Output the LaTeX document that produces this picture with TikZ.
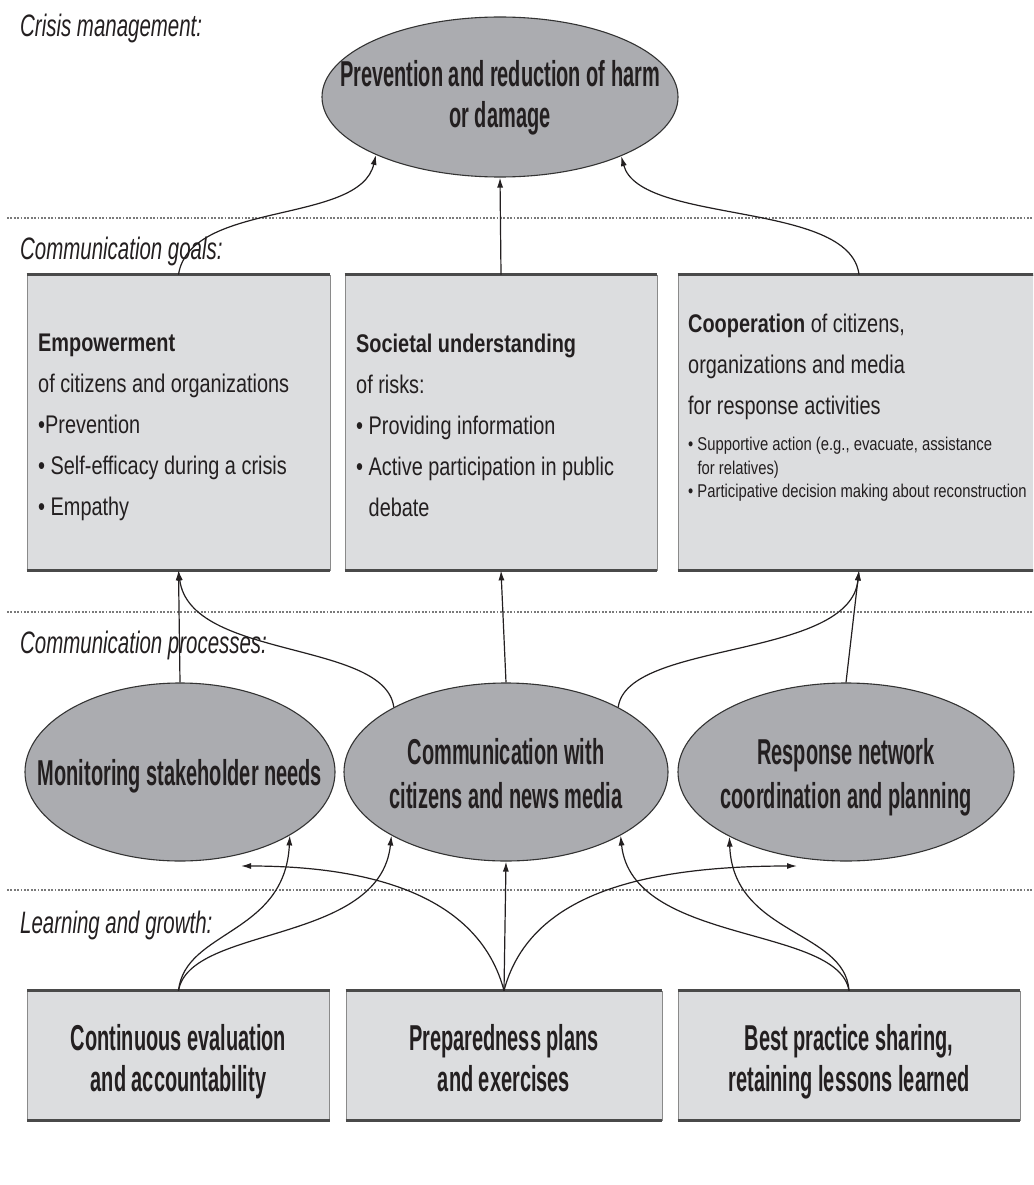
\documentclass[tikz,border=0pt]{standalone}
\usepackage{fontspec}
\setmainfont{Liberation Sans}
\newfontfamily\fbig{Liberation Sans}[FakeStretch=0.555]
\newfontfamily\fmid{Liberation Sans}[FakeStretch=0.78]
\newfontfamily\fsmall{Liberation Sans}[FakeStretch=0.80]
\newfontfamily\flab{Liberation Sans}[FakeStretch=0.66]
\usetikzlibrary{arrows.meta,shapes.geometric}
\definecolor{txt}{HTML}{231F20}
\definecolor{ellfill}{HTML}{ABACB0}
\definecolor{ellline}{HTML}{333333}
\definecolor{boxfill}{HTML}{DCDDDF}
\definecolor{boxline}{HTML}{8A8A8A}
\definecolor{boxedge}{HTML}{4A4A4A}
\definecolor{sepgray}{HTML}{7A7A7A}
\begin{document}
\begin{tikzpicture}[x=1pt,y=-1pt,
  ell/.style={ellipse, draw=ellline, fill=ellfill, line width=1.1pt, inner sep=0pt},
  elltext/.style={inner sep=0pt, align=center, text=txt,
    font=\fbig\bfseries\fontsize{36}{44}\selectfont},
  boxtext/.style={inner sep=0pt, align=center, text=txt,
    font=\fbig\bfseries\fontsize{36}{41}\selectfont},
  panel/.style={rectangle, draw=boxline, fill=boxfill, line width=0.8pt, inner sep=0pt},
  paneledge/.style={draw=boxedge, line width=2.6pt},
  gtext/.style={anchor=north west, inner sep=0pt, align=left, text=txt,
    font=\fmid\fontsize{25.5}{41}\selectfont},
  gsmall/.style={anchor=north west, inner sep=0pt, align=left, text=txt,
    font=\fsmall\fontsize{18.5}{23.5}\selectfont},
  sec/.style={anchor=base west, inner sep=0pt, text=txt,
    font=\flab\itshape\fontsize{31}{36}\selectfont},
  sepline/.style={draw=sepgray, line width=1.8pt, dash pattern=on 1.8pt off 1.6pt},
  arr/.style={-{Latex[length=10pt,width=6pt]}, line width=1.2pt, draw=txt}]

\useasboundingbox (0,0) rectangle (1033,1185);
\clip (0,0) rectangle (1033,1185);
\fill[white] (0,0) rectangle (1033,1185);

% layer separators
\coordinate (s1a) at (7,218);  \coordinate (s1b) at (1033,218);
\coordinate (s2a) at (7,612);  \coordinate (s2b) at (1033,612);
\coordinate (s3a) at (7,890);  \coordinate (s3b) at (1033,890);
\draw[sepline] (s1a) -- (s1b);
\draw[sepline] (s2a) -- (s2b);
\draw[sepline] (s3a) -- (s3b);

% layer titles
\node[sec] (h1) at (20,37)  {Crisis management:};
\node[sec] (h2) at (20,259) {Communication goals:};
\node[sec] (h3) at (20,653) {Communication processes:};
\node[sec] (h4) at (20,933) {Learning and growth:};

% crisis management
\node[ell, minimum width=356, minimum height=160] (P) at (500,97) {};
\node[boxtext] (Pt) at (500,99.3) {\strut Prevention and reduction of harm\\or damage\strut};

% communication goals
\node[panel, minimum width=303, minimum height=295] (G1) at (178.5,422.5) {};
\node[panel, minimum width=312, minimum height=295] (G2) at (501,422.5) {};
\node[panel, minimum width=362, minimum height=295] (G3) at (859,422.5) {};
\foreach \b in {G1,G2,G3}{
  \draw[paneledge] (\b.north west) -- (\b.north east);
  \draw[paneledge] (\b.south west) -- (\b.south east);
}
\node[gtext] (G1t) at (38,334) {{\bfseries Empowerment}\\of citizens and organizations\\%
  \textbullet Prevention\\\textbullet\ Self-efficacy during a crisis\\\textbullet\ Empathy};
\node[gtext] (G2t) at (356,334) {{\bfseries Societal understanding}\\of risks:\\%
  \textbullet\ Providing information\\\textbullet\ Active participation in public\\%
  \phantom{\textbullet\ }debate};
\node[gtext] (G3t) at (688,314) {{\bfseries Cooperation} of citizens,\\organizations and media\\%
  for response activities};
\node[gsmall] (G3l) at (688,437) {\textbullet\ Supportive action (e.g., evacuate, assistance\\%
  \phantom{\textbullet\ }for relatives)\\\textbullet\ Participative decision making about reconstruction};

% communication processes
\node[ell, minimum width=310, minimum height=178] (E1) at (180,772) {};
\node[ell, minimum width=324, minimum height=178] (E2) at (506,772) {};
\node[ell, minimum width=336, minimum height=178] (E3) at (846,772) {};
\node[elltext] (E1t) at (180,776.7) {\strut Monitoring stakeholder needs\strut};
\node[elltext] (E2t) at (506,777.7) {\strut Communication with\\citizens and news media\strut};
\node[elltext] (E3t) at (846,777.7) {\strut Response network\\coordination and planning\strut};

% learning and growth
\node[panel, minimum width=302, minimum height=129] (L1) at (178.5,1055.5) {};
\node[panel, minimum width=316, minimum height=129] (L2) at (504,1055.5) {};
\node[panel, minimum width=342, minimum height=129] (L3) at (849,1055.5) {};
\foreach \b in {L1,L2,L3}{
  \draw[paneledge] (\b.north west) -- (\b.north east);
  \draw[paneledge] (\b.south west) -- (\b.south east);
}
\node[boxtext] (L1t) at (178.5,1063) {\strut Continuous evaluation\\and accountability\strut};
\node[boxtext] (L2t) at (504,1063) {\strut Preparedness plans\\and exercises\strut};
\node[boxtext] (L3t) at (849,1063) {\strut Best practice sharing,\\retaining lessons learned\strut};

% goals -> crisis management
\draw[arr] (G1.north) .. controls (190,200) and (360,225) .. (P.205.5);
\draw[arr] (G2.north) -- (P.south);
\draw[arr] (G3.north) .. controls (850,200) and (640,225) .. (P.334.5);

% processes -> goals
\draw[arr] (E1.north) -- (G1.south);
\draw[arr] (E2.150) .. controls (385,640) and (190,660) .. (G1.south);
\draw[arr] (E2.north) -- (G2.south);
\draw[arr] (E2.30) .. controls (627,640) and (850,660) .. (G3.south);
\draw[arr] (E3.north) -- (G3.south);

% learning -> processes
\coordinate (tl) at (241,866);
\coordinate (tr) at (797,866);
\draw[arr] (L1.north) .. controls (185,930) and (285,935) .. (E1.330);
\draw[arr] (L1.north) .. controls (190,925) and (380,945) .. (E2.209);
\draw[arr] (L2.north) -- (E2.south);
\draw[arr] (L2.north) .. controls (480,900) and (380,866) .. (tl);
\draw[arr] (L2.north) .. controls (528,900) and (630,866) .. (tr);
\draw[arr] (L3.north) .. controls (845,930) and (733,935) .. (E3.209);
\draw[arr] (L3.north) .. controls (838,925) and (632,945) .. (E2.331);
\end{tikzpicture}
\end{document}
